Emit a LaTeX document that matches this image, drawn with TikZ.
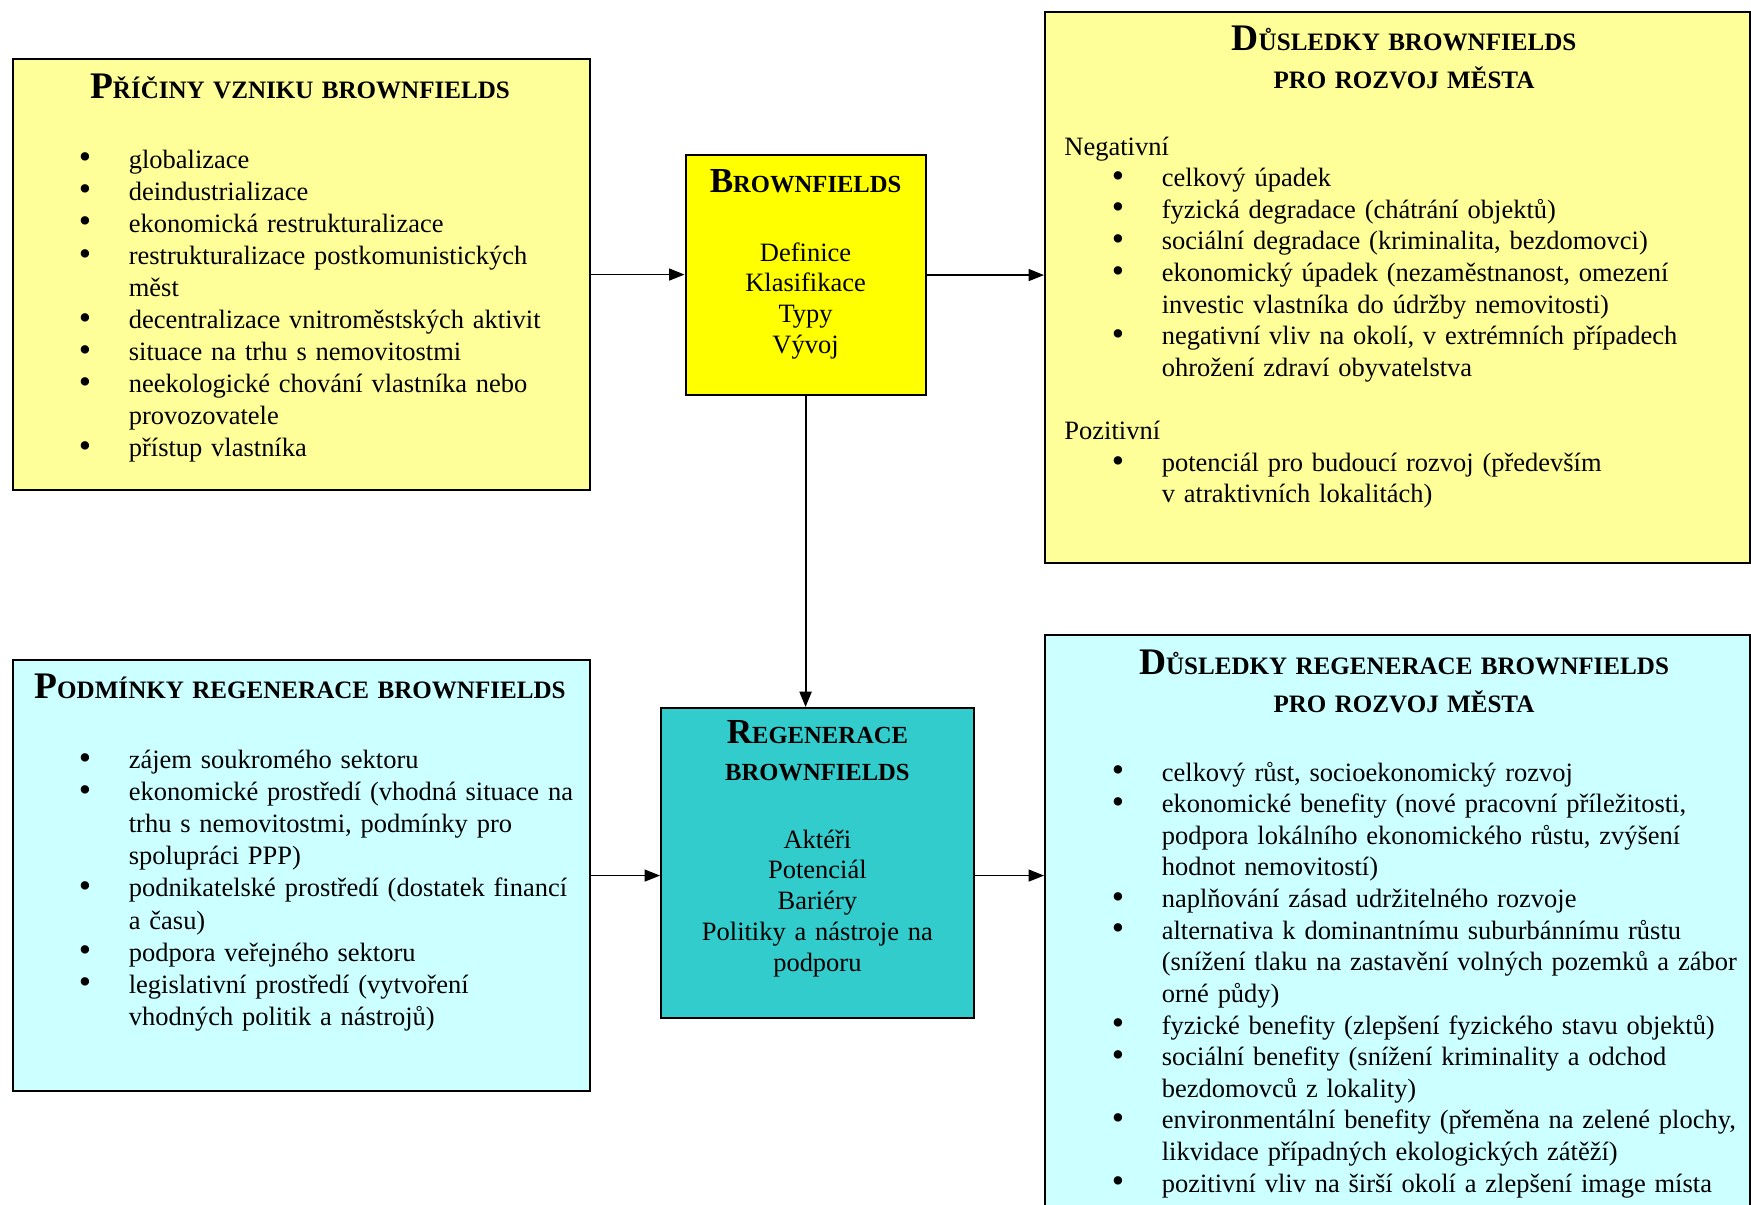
\documentclass[tikz,border=0pt]{standalone}
\usepackage{fontspec}
\setmainfont{Liberation Serif}
\usetikzlibrary{arrows.meta, positioning, calc}
\definecolor{cpale}{HTML}{FFFF99}
\definecolor{cyell}{HTML}{FFFF00}
\definecolor{ccyan}{HTML}{CCFFFF}
\definecolor{cteal}{HTML}{33CCCC}
\newlength\bulind
\newlength\itind
\newcommand{\bitem}[1]{\hangindent=\itind\hangafter=1\noindent\makebox[\itind][l]{\hspace*{\bulind}\raisebox{-0.3pt}{\fontsize{15}{13.5}\selectfont\textbullet}}#1\par}
\newcommand{\nl}{\hfil\break}
\newcommand{\hcap}[2]{{\fontsize{16}{16.2}\selectfont#1}{\fontsize{10.7}{16.2}\selectfont#2}}
\newcommand{\wcap}[2]{{\fontsize{15}{16.2}\selectfont#1}{\fontsize{10.5}{16.2}\selectfont#2}}
\tikzset{
  box/.style={draw=black, fill=#1, line width=0.9pt, inner sep=0pt, anchor=north west},
  arrow/.style={-{Triangle[length=2.3mm, width=1.8mm]}, line width=0.5pt},
  head/.style={anchor=base, inner sep=0pt, text width=10cm, align=center, font=\bfseries\fontsize{10.7}{16.2}\selectfont},
  midhead/.style={head, text width=5cm},
  listtext/.style={anchor=base west, inner sep=0pt, text width=12cm, align=left, font=\fontsize{11.3}{13.5}\selectfont},
  leftlist/.style={listtext, font=\fontsize{11.3}{13.7}\selectfont, execute at begin node={\setlength\bulind{-0.04cm}\setlength\itind{0.711cm}\hyphenpenalty=10000}},
  rightlist/.style={listtext, execute at begin node={\setlength\bulind{0.71cm}\setlength\itind{1.461cm}\hyphenpenalty=10000}},
  midtext/.style={anchor=base, inner sep=0pt, text width=5cm, align=center, font=\fontsize{11.3}{13.2}\selectfont},
}

\begin{document}
\begin{tikzpicture}[x=0.015cm, y=-0.015cm]
  \useasboundingbox (0,0) rectangle (1751,1205);
  \clip (0,0) rectangle (1751,1205);
  % boxes
  \node[box=cpale, minimum width=8.648cm, minimum height=6.465cm] (priciny) at (12,58) {};
  \node[box=cyell, minimum width=3.6cm, minimum height=3.6cm] (brown) at (684.5,154) {};
  \node[box=cpale, minimum width=10.58cm, minimum height=8.265cm] (dusl) at (1044,11) {};
  \node[box=ccyan, minimum width=8.648cm, minimum height=6.465cm] (podm) at (12,659) {};
  \node[box=cteal, minimum width=4.69cm, minimum height=4.65cm] (regen) at (660,707) {};
  \node[box=ccyan, minimum width=10.58cm, minimum height=9.5cm] (duslreg) at (1044,634) {};

  % arrows
  \draw[arrow] (priciny.east) -- (priciny.east -| brown.west);
  \draw[arrow] (brown.east) -- (brown.east -| dusl.west);
  \draw[arrow, line width=0.9pt] (brown.south) -- (brown.south |- regen.north);
  \draw[arrow] (podm.east) -- (podm.east -| regen.west);
  \draw[arrow] (podm.east -| regen.east) -- (podm.east -| duslreg.west);

  % causes
  \node[head] (priciny-h) at (300,98) {\hcap{P}{ŘÍČINY VZNIKU BROWNFIELDS}};
  \node[leftlist] (priciny-t) at (81,168) {%
    \bitem{globalizace}
    \bitem{deindustrializace}
    \bitem{ekonomická restrukturalizace}
    \bitem{restrukturalizace postkomunistických\nl měst}
    \bitem{decentralizace vnitroměstských aktivit}
    \bitem{situace na trhu s nemovitostmi}
    \bitem{neekologické chování vlastníka nebo\nl provozovatele}
    \bitem{přístup vlastníka}};

  % brownfields
  \node[midhead] (brown-h) at (brown.center |- 0,192) {\wcap{B}{ROWNFIELDS}};
  \node[midtext] (brown-t) at (brown.center |- 0,261) {Definice\\ Klasifikace\\ Typy\\ Vývoj};

  % consequences of brownfields
  \node[head] (dusl-h) at (1404,51) {\hcap{D}{ŮSLEDKY BROWNFIELDS}\\ \hcap{}{PRO ROZVOJ MĚSTA}};
  \node[rightlist] (dusl-t) at (1064,155) {%
    \noindent Negativní\par
    \bitem{celkový úpadek}
    \bitem{fyzická degradace (chátrání objektů)}
    \bitem{sociální degradace (kriminalita, bezdomovci)}
    \bitem{ekonomický úpadek (nezaměstnanost, omezení\nl investic vlastníka do údržby nemovitosti)}
    \bitem{negativní vliv na okolí, v extrémních případech\nl ohrožení zdraví obyvatelstva}
    \noindent\mbox{}\par
    \noindent Pozitivní\par
    \bitem{potenciál pro budoucí rozvoj (především\nl v atraktivních lokalitách)}};

  % conditions
  \node[head] (podm-h) at (300,698) {\hcap{P}{ODMÍNKY REGENERACE BROWNFIELDS}};
  \node[leftlist] (podm-t) at (81,768.5) {%
    \bitem{zájem soukromého sektoru}
    \bitem{ekonomické prostředí (vhodná situace na\nl trhu s nemovitostmi, podmínky pro\nl spolupráci PPP)}
    \bitem{podnikatelské prostředí (dostatek financí\nl a času)}
    \bitem{podpora veřejného sektoru}
    \bitem{legislativní prostředí (vytvoření\nl vhodných politik a nástrojů)}};

  % regeneration
  \node[midhead] (regen-h) at (regen.center |- 0,743) {\wcap{R}{EGENERACE}\\ \wcap{}{BROWNFIELDS}};
  \node[midtext] (regen-t) at (regen.center |- 0,848) {Aktéři\\ Potenciál\\ Bariéry\\ Politiky a nástroje na\\ podporu};

  % consequences of regeneration
  \node[head] (duslreg-h) at (1404,674.5) {\hcap{D}{ŮSLEDKY REGENERACE BROWNFIELDS}\\ \hcap{}{PRO ROZVOJ MĚSTA}};
  \node[rightlist] (duslreg-t) at (1064,781) {%
    \bitem{celkový růst, socioekonomický rozvoj}
    \bitem{ekonomické benefity (nové pracovní příležitosti,\nl podpora lokálního ekonomického růstu, zvýšení\nl hodnot nemovitostí)}
    \bitem{naplňování zásad udržitelného rozvoje}
    \bitem{alternativa k dominantnímu suburbánnímu růstu\nl (snížení tlaku na zastavění volných pozemků a zábor\nl orné půdy)}
    \bitem{fyzické benefity (zlepšení fyzického stavu objektů)}
    \bitem{sociální benefity (snížení kriminality a odchod\nl bezdomovců z lokality)}
    \bitem{environmentální benefity (přeměna na zelené plochy,\nl likvidace případných ekologických zátěží)}
    \bitem{pozitivní vliv na širší okolí a zlepšení image místa}};
\end{tikzpicture}
\end{document}
